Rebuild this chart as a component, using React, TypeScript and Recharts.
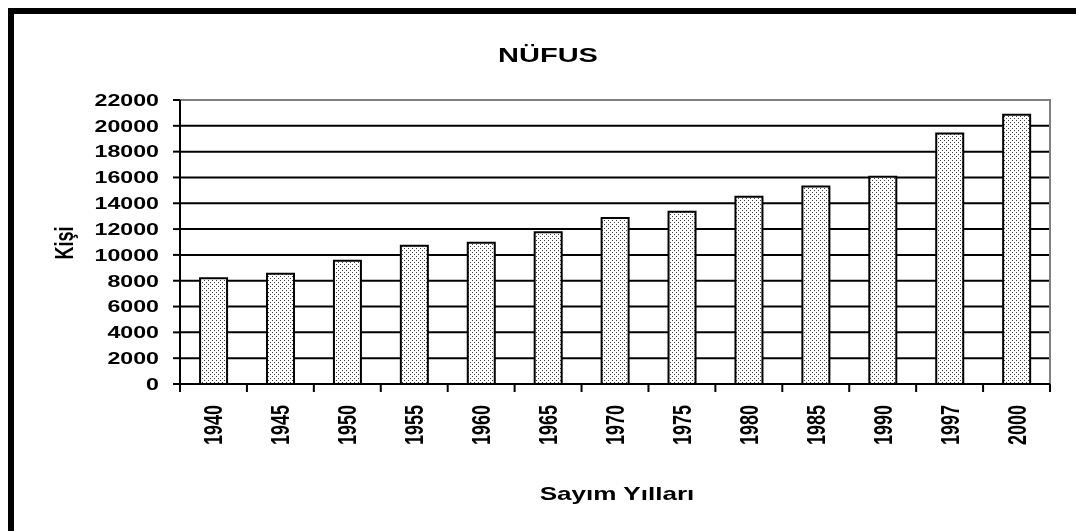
import React from 'react';
import { BarChart, Bar, XAxis, YAxis, CartesianGrid, ReferenceArea, Customized } from 'recharts';

const years = ['1940', '1945', '1950', '1955', '1960', '1965', '1970', '1975', '1980', '1985', '1990', '1997', '2000'];
const population = [8200, 8550, 9550, 10700, 10950, 11750, 12850, 13350, 14500, 15300, 16050, 19400, 20850];
const yTicks = [0, 2000, 4000, 6000, 8000, 10000, 12000, 14000, 16000, 18000, 20000, 22000];

const chartTitle = 'NÜFUS';
const xTitle = 'Sayım Yılları';
const yTitle = 'Kişi';

const data = years.map((y, i) => ({ year: y, value: population[i] }));

const FONT = '"Liberation Sans", Arial, Helvetica, sans-serif';
const SX = 1.45;

const W = 1062;
const H = 509;
const M = { top: 86, right: 26, left: 106, bottom: 79 };
const Y_AXIS_W = 60;
const X_AXIS_H = 60;
const PLOT_W = W - M.left - Y_AXIS_W - M.right;
const HALF_BAND_FALLBACK = PLOT_W / years.length / 2;

const XTick = (props: any) => {
  const { x, y, payload, index } = props;
  const axisY = y - 21;
  const off = payload && typeof payload.offset === 'number' && payload.offset > 0 ? payload.offset : HALF_BAND_FALLBACK;
  const last = index === years.length - 1;
  return (
    <g>
      <line x1={x - off} y1={axisY} x2={x - off} y2={axisY + 8} stroke="#000" strokeWidth={2} />
      {last && <line x1={x + off} y1={axisY} x2={x + off} y2={axisY + 8} stroke="#000" strokeWidth={2} />}
      <text
        transform={`translate(${x + 9},${y}) scale(${SX},1) rotate(-90)`}
        textAnchor="end"
        fontFamily={FONT}
        fontWeight="bold"
        fontSize={18}
        fill="#000"
      >
        {payload.value}
      </text>
    </g>
  );
};

const YTick = (props: any) => {
  const { x, y, payload } = props;
  return (
    <text
      transform={`translate(${x},${y + 5.8}) scale(${SX},1)`}
      textAnchor="end"
      fontFamily={FONT}
      fontWeight="bold"
      fontSize={16}
      fill="#000"
    >
      {payload.value}
    </text>
  );
};

const Titles = () => (
  <g>
    <text
      transform={`translate(534,47.5) scale(${SX},1)`}
      textAnchor="middle"
      fontFamily={FONT}
      fontWeight="bold"
      fontSize={20}
      fill="#000"
    >
      {chartTitle}
    </text>
    <text
      transform={`translate(603,486) scale(${SX},1)`}
      textAnchor="middle"
      fontFamily={FONT}
      fontWeight="bold"
      fontSize={18}
      fill="#000"
    >
      {xTitle}
    </text>
    <text
      transform={`translate(58.5,229) scale(${SX},1) rotate(-90)`}
      textAnchor="middle"
      fontFamily={FONT}
      fontWeight="bold"
      fontSize={18}
      fill="#000"
    >
      {yTitle}
    </text>
  </g>
);

export default function App() {
  return (
    <div style={{ position: 'relative', width: W, height: H, marginLeft: 6, marginTop: 6, background: '#fff' }}>
      <div
        style={{
          position: 'fixed',
          left: 8,
          top: 8,
          width: 1200,
          height: 700,
          borderLeft: '6px solid #000',
          borderTop: '6px solid #000',
          pointerEvents: 'none',
        }}
      />
      <svg width={0} height={0} style={{ position: 'absolute' }}>
        <defs>
          <pattern id="dots" x={0} y={0} width={4} height={4} patternUnits="userSpaceOnUse">
            <rect x={0} y={0} width={4} height={4} fill="#fff" />
            <rect x={0} y={0} width={1} height={1} fill="#444" />
            <rect x={2} y={2} width={1} height={1} fill="#444" />
          </pattern>
        </defs>
      </svg>
      <BarChart width={W} height={H} data={data} margin={M} barCategoryGap="30%">
        <CartesianGrid horizontal vertical={false} stroke="#000" strokeWidth={2} />
        <ReferenceArea y1={0} y2={22000} fill="none" stroke="#808080" strokeWidth={2} />
        <XAxis
          dataKey="year"
          height={X_AXIS_H}
          interval={0}
          tickLine={false}
          tickSize={8}
          tickMargin={13}
          axisLine={{ stroke: '#000', strokeWidth: 2 }}
          tick={<XTick />}
        />
        <YAxis
          width={Y_AXIS_W}
          domain={[0, 22000]}
          ticks={yTicks}
          interval={0}
          tickSize={7}
          tickMargin={14}
          tickLine={{ stroke: '#000', strokeWidth: 2 }}
          axisLine={{ stroke: '#000', strokeWidth: 2 }}
          tick={<YTick />}
        />
        <Bar dataKey="value" fill="url(#dots)" stroke="#000" strokeWidth={2} isAnimationActive={false} />
        <Customized component={Titles} />
      </BarChart>
    </div>
  );
}
